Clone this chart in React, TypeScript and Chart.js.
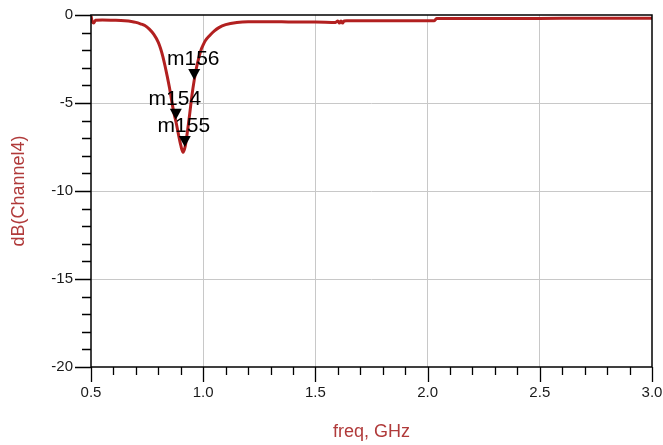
import React, { useEffect, useRef } from "react";
import { Chart, registerables } from "chart.js";

Chart.register(...registerables);

// frequency (GHz) and dB(Channel4)
const freqGHz = [
  0.5, 0.505, 0.512, 0.52, 0.55, 0.6, 0.65, 0.68, 0.7, 0.72, 0.74, 0.76, 0.78,
  0.8, 0.81, 0.82, 0.83, 0.84, 0.85, 0.86, 0.87, 0.88, 0.89, 0.9, 0.91, 0.92,
  0.93, 0.94, 0.95, 0.96, 0.97, 0.98, 0.99, 1.0, 1.01, 1.03, 1.05, 1.07, 1.1,
  1.15, 1.2, 1.3, 1.4, 1.5, 1.59, 1.6, 1.607, 1.614, 1.621, 1.628, 1.64, 1.7,
  1.8, 1.9, 2.0, 2.03, 2.04, 2.2, 2.4, 2.6, 2.8, 3.0,
];
const dBChannel4 = [
  -0.05, -0.35, -0.45, -0.3, -0.28, -0.3, -0.33, -0.37, -0.42, -0.5, -0.6,
  -0.8, -1.1, -1.55, -1.9, -2.35, -2.9, -3.5, -4.15, -4.9, -5.6, -6.15, -6.8,
  -7.4, -7.8, -7.45, -6.6, -5.6, -4.55, -3.7, -3.0, -2.45, -2.0, -1.7, -1.45,
  -1.15, -0.9, -0.72, -0.55, -0.42, -0.38, -0.38, -0.4, -0.4, -0.42, -0.34,
  -0.46, -0.34, -0.46, -0.34, -0.33, -0.33, -0.33, -0.33, -0.33, -0.33, -0.2,
  -0.2, -0.2, -0.19, -0.19, -0.19,
];

const markerNames = ["m154", "m155", "m156"];
const markerFreq = [0.878, 0.918, 0.96];
const markerDB = [-5.95, -7.5, -3.7];

const xMin = 0.5;
const xMax = 3.0;
const xStep = 0.5;
const xMinorStep = 0.1;
const yMin = -20;
const yMax = 0;
const yStep = 5;
const yMinorStep = 1;

const FONT = "'Liberation Sans', Arial, sans-serif";

const frame = {
  id: "adsFrame",
  afterDatasetsDraw(chart: any) {
    const { ctx } = chart;
    const xs = chart.scales.x;
    const ys = chart.scales.y;
    ctx.save();
    for (let i = 0; i < markerNames.length; i++) {
      const px = xs.getPixelForValue(markerFreq[i]);
      const py = ys.getPixelForValue(markerDB[i]);
      ctx.beginPath();
      ctx.moveTo(px, py);
      ctx.lineTo(px - 6, py - 11);
      ctx.lineTo(px + 6, py - 11);
      ctx.closePath();
      ctx.fillStyle = "#000";
      ctx.fill();
      ctx.font = `21px ${FONT}`;
      ctx.textAlign = "center";
      ctx.textBaseline = "alphabetic";
      ctx.fillText(markerNames[i], px - 1, py - 15);
    }
    ctx.restore();
  },
  afterDraw(chart: any) {
    const { ctx, chartArea } = chart;
    const xs = chart.scales.x;
    const ys = chart.scales.y;
    const { left, right, top, bottom } = chartArea;
    ctx.save();
    ctx.strokeStyle = "#000";
    ctx.lineWidth = 1.5;
    ctx.strokeRect(left, top, right - left, bottom - top);
    ctx.lineWidth = 1.3;
    ctx.beginPath();
    const nx = Math.round((xMax - xMin) / xMinorStep);
    for (let i = 0; i <= nx; i++) {
      const v = xMin + i * xMinorStep;
      const px = Math.round(xs.getPixelForValue(v)) + 0.5;
      const major = i % Math.round(xStep / xMinorStep) === 0;
      ctx.moveTo(px, bottom);
      ctx.lineTo(px, bottom + (major ? 15 : 8));
    }
    const ny = Math.round((yMax - yMin) / yMinorStep);
    for (let i = 0; i <= ny; i++) {
      const v = yMin + i * yMinorStep;
      const py = Math.round(ys.getPixelForValue(v)) + 0.5;
      const major = i % Math.round(yStep / yMinorStep) === 0;
      ctx.moveTo(left, py);
      ctx.lineTo(left - (major ? 16 : 9), py);
    }
    ctx.stroke();
    ctx.restore();
  },
};

export default function App() {
  const ref = useRef<HTMLCanvasElement | null>(null);
  useEffect(() => {
    document.body.style.margin = "0";
    if (!ref.current) return;
    const gridColor = (c: any) => {
      const v = c.tick && c.tick.value;
      const s = c.scale;
      if (v === s.min || v === s.max) return "rgba(0,0,0,0)";
      return "#c8c8c8";
    };
    const chart = new Chart(ref.current, {
      type: "line",
      data: {
        datasets: [
          {
            data: freqGHz.map((f, i) => ({ x: f, y: dBChannel4[i] })),
            borderColor: "#b22020",
            borderWidth: 3,
            pointRadius: 0,
            cubicInterpolationMode: "monotone",
            fill: false,
          },
        ],
      },
      options: {
        animation: false,
        responsive: false,
        events: [],
        layout: { padding: { left: 0, top: 15, right: 11, bottom: 0 } },
        plugins: { legend: { display: false }, tooltip: { enabled: false } },
        scales: {
          x: {
            type: "linear",
            min: xMin,
            max: xMax,
            ticks: {
              stepSize: xStep,
              padding: 17,
              color: "#1a1a1a",
              font: { family: FONT, size: 15 },
              maxRotation: 0,
              callback: (v: any) => Number(v).toFixed(1),
            },
            grid: { color: gridColor, lineWidth: 1, drawTicks: false },
            border: { display: false },
            title: {
              display: true,
              text: "freq, GHz",
              color: "#b03a3a",
              font: { family: FONT, size: 18 },
              padding: { top: 0, bottom: 2 },
            },
            afterFit: (s: any) => {
              s.height = 78;
              s.paddingLeft = 0;
              s.paddingRight = 0;
            },
          },
          y: {
            type: "linear",
            min: yMin,
            max: yMax,
            ticks: {
              stepSize: yStep,
              padding: 18,
              color: "#1a1a1a",
              font: { family: FONT, size: 15 },
              callback: (v: any) => String(v),
            },
            grid: { color: gridColor, lineWidth: 1, drawTicks: false },
            border: { display: false },
            title: {
              display: true,
              text: "dB(Channel4)",
              color: "#b03a3a",
              font: { family: FONT, size: 18 },
              padding: { top: 8, bottom: 0 },
            },
            afterFit: (s: any) => {
              s.width = 91;
              s.paddingTop = 0;
              s.paddingBottom = 0;
            },
          },
        },
      },
      plugins: [frame],
    });
    return () => chart.destroy();
  }, []);
  return (
    <div style={{ position: "absolute", left: 0, top: 0, width: 663, height: 445 }}>
      <canvas ref={ref} width={663} height={445} />
    </div>
  );
}
